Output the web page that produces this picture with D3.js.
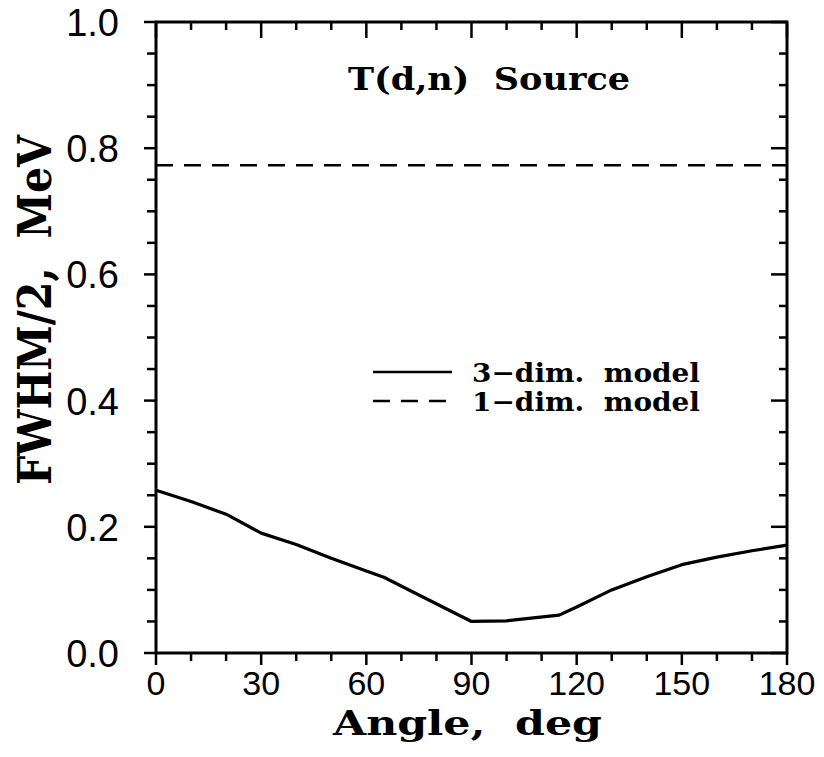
<!DOCTYPE html>
<html>
<head>
<meta charset="utf-8">
<script src="https://cdn.jsdelivr.net/npm/d3@7"></script>
<style>
  html, body { margin: 0; padding: 0; background: #fff; }
  svg { display: block; }
  text { white-space: pre; }
</style>
</head>
<body>
<div class="chart"></div>
<script>
// 3-dim. model curve (angle in deg, FWHM/2 in MeV)
var angles3d = [0, 10, 20, 30, 40, 50, 60, 65, 75, 90, 100, 105, 115, 120, 130, 140, 150, 160, 170, 180];
var fwhm3d   = [0.258, 0.240, 0.220, 0.190, 0.172, 0.150, 0.130, 0.120, 0.092, 0.050, 0.051, 0.054, 0.060, 0.073, 0.100, 0.121, 0.140, 0.152, 0.162, 0.171];

// 1-dim. model (flat)
var angles1d = [0, 180];
var fwhm1d   = [0.773, 0.773];

var xTickLabels = [0, 30, 60, 90, 120, 150, 180];
var yTickLabels = [0.0, 0.2, 0.4, 0.6, 0.8, 1.0];
var legendLabels = ["3\u2212dim.  model", "1\u2212dim.  model"];
var titleText = "T(d,n)  Source";

var W = 824, H = 757;
var margin = {left: 156, right: 37, top: 22, bottom: 104};
var plotW = W - margin.left - margin.right,
    plotH = H - margin.top - margin.bottom;

var svg = d3.select(".chart").append("svg")
    .attr("width", W)
    .attr("height", H);

var g = svg.append("g")
    .attr("transform", "translate(" + margin.left + "," + margin.top + ")");

var x = d3.scaleLinear().domain([0, 180]).range([0, plotW]);
var y = d3.scaleLinear().domain([0, 1]).range([plotH, 0]);

var serif = "'DejaVu Serif', serif";
var sans = "'Liberation Sans', Arial, sans-serif";

//minor/major ticks
var xMinor = d3.range(0, 181, 10);
var yMinor = d3.range(0, 1.0001, 0.05);

function isMajorX(d){ return d % 30 == 0; }
function isMajorY(d){ return Math.abs(Math.round(d * 5) - d * 5) < 1e-6; }

var ticks = g.append("g").attr("class", "ticks")
    .attr("stroke", "#000").attr("stroke-width", 2.5);

// bottom (outward)
ticks.selectAll(".tb").data(xMinor).enter().append("line")
    .attr("x1", function(d){ return x(d); })
    .attr("x2", function(d){ return x(d); })
    .attr("y1", plotH)
    .attr("y2", function(d){ return plotH + (isMajorX(d) ? 12 : 8); });
// top (inward)
ticks.selectAll(".tt").data(xMinor).enter().append("line")
    .attr("x1", function(d){ return x(d); })
    .attr("x2", function(d){ return x(d); })
    .attr("y1", 0)
    .attr("y2", function(d){ return isMajorX(d) ? 16 : 8; });
// left (outward)
ticks.selectAll(".tl").data(yMinor).enter().append("line")
    .attr("y1", function(d){ return y(d); })
    .attr("y2", function(d){ return y(d); })
    .attr("x1", 0)
    .attr("x2", function(d){ return isMajorY(d) ? -12 : -9; });
// right (inward)
ticks.selectAll(".tr").data(yMinor).enter().append("line")
    .attr("y1", function(d){ return y(d); })
    .attr("y2", function(d){ return y(d); })
    .attr("x1", plotW)
    .attr("x2", function(d){ return plotW - (isMajorY(d) ? 16 : 8); });

// frame
g.append("rect")
    .attr("x", 0).attr("y", 0)
    .attr("width", plotW).attr("height", plotH)
    .attr("fill", "none")
    .attr("stroke", "#000")
    .attr("stroke-width", 3);

// tick labels
g.selectAll(".xlab").data(xTickLabels).enter().append("text")
    .attr("x", function(d){ return x(d); })
    .attr("y", plotH + 42)
    .attr("text-anchor", "middle")
    .style("font-family", sans)
    .style("font-size", "34px")
    .text(function(d){ return d; });

g.selectAll(".ylab").data(yTickLabels).enter().append("text")
    .attr("x", -37)
    .attr("y", function(d){ return y(d) + 14; })
    .attr("text-anchor", "end")
    .style("font-family", sans)
    .style("font-size", "38px")
    .text(function(d){ return d.toFixed(1); });

// curves
var line = d3.line()
    .x(function(d){ return x(d[0]); })
    .y(function(d){ return y(d[1]); });

g.append("path")
    .datum(d3.zip(angles3d, fwhm3d))
    .attr("d", line)
    .attr("fill", "none")
    .attr("stroke", "#000")
    .attr("stroke-width", 3.2)
    .attr("stroke-linejoin", "round");

g.append("path")
    .datum(d3.zip(angles1d, fwhm1d))
    .attr("d", line)
    .attr("fill", "none")
    .attr("stroke", "#000")
    .attr("stroke-width", 2.6)
    .attr("stroke-dasharray", "17,11");

// title inside plot
svg.append("text")
    .attr("x", 348).attr("y", 90)
    .attr("textLength", 282)
    .attr("lengthAdjust", "spacingAndGlyphs")
    .style("font-family", serif)
    .style("font-weight", "bold")
    .style("font-size", "31px")
    .text(titleText);

// legend
var lgd = svg.selectAll(".entry").data(legendLabels).enter().append("g")
    .attr("class", "entry")
    .attr("transform", function(d, i){ return "translate(373," + (372 + i * 29) + ")"; });

lgd.append("line")
    .attr("x1", 0).attr("x2", 79)
    .attr("y1", 0).attr("y2", 0)
    .attr("stroke", "#000")
    .attr("stroke-width", 2.6)
    .attr("stroke-dasharray", function(d, i){ return i == 0 ? null : "17,11"; });

lgd.append("text")
    .attr("x", 99).attr("y", 10)
    .attr("textLength", 228)
    .attr("lengthAdjust", "spacingAndGlyphs")
    .style("font-family", serif)
    .style("font-weight", "bold")
    .style("font-size", "26px")
    .text(function(d){ return d; });

// axis titles
svg.append("text")
    .attr("x", 333).attr("y", 735)
    .attr("textLength", 269)
    .attr("lengthAdjust", "spacingAndGlyphs")
    .style("font-family", serif)
    .style("font-weight", "bold")
    .style("font-size", "34px")
    .text("Angle,  deg");

svg.append("text")
    .attr("transform", "translate(51,485) rotate(-90)")
    .attr("x", 0).attr("y", 0)
    .attr("textLength", 350)
    .attr("lengthAdjust", "spacingAndGlyphs")
    .style("font-family", serif)
    .style("font-weight", "bold")
    .style("font-size", "46px")
    .text("FWHM/2,  MeV");
</script>
</body>
</html>
